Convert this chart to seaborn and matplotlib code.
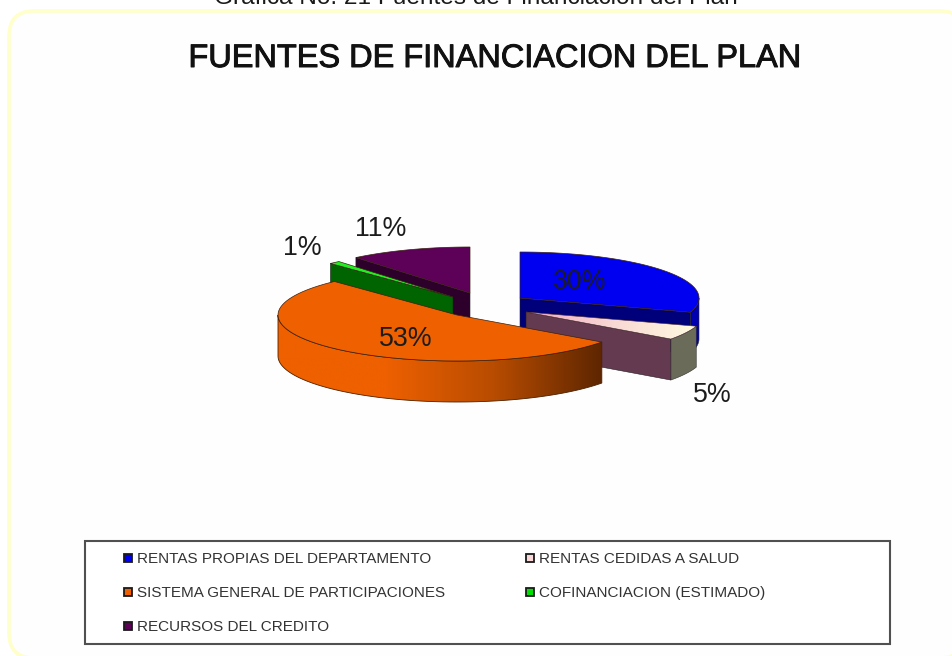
import numpy as np
import seaborn as sns
import matplotlib
matplotlib.use("Agg")
import matplotlib.pyplot as plt
from matplotlib.patches import FancyBboxPatch, Polygon, Rectangle
from matplotlib.colors import LinearSegmentedColormap
from matplotlib import patheffects as pe

# ---- data ----
categories = ["RENTAS PROPIAS DEL DEPARTAMENTO", "RENTAS CEDIDAS A SALUD",
              "SISTEMA GENERAL DE PARTICIPACIONES", "COFINANCIACION (ESTIMADO)",
              "RECURSOS DEL CREDITO"]
values = [30, 5, 53, 1, 11]
caption = "Gráfica No. 21 Fuentes de Financiación del Plan"
title = "FUENTES DE FINANCIACION DEL PLAN"

# ---- style ----
top_colors = ["#0000f0", "#f2c4cc", "#ee6000", "#20f020", "#5c0058"]
legend_colors = ["#0000f0", "#fbd8d8", "#ee6000", "#00e000", "#5c0058"]
radial_colors = ["#00007a", "#643a50", "#ee6000", "#006400", "#2c002a"]
outer_colors = ["#0000b0", "#6b6b5a", "#ee6000", "#006400", "#2c002a"]
apexes = [(520, 298), (526, 312), (457, 315), (453, 297), (470, 293)]
wall_side = [1, 1, None, 0, 0]     # which radial edge of each slice shows a wall
paint_order = [0, 4, 3, 1, 2]
label_xy = [(580, 282), (712, 395), (406, 339), (302, 248), (381, 229)]
RX, RY, DEPTH = 179, 46, 41
FONT = "Liberation Sans"

sns.set_theme(style="white")
plt.rcParams["font.family"] = [FONT, "DejaVu Sans"]

fig = plt.figure(figsize=(9.52, 6.56), dpi=100, facecolor="white")
ax = fig.add_axes([0, 0, 1, 1])
ax.set_xlim(0, 952)
ax.set_ylim(656, 0)
ax.axis("off")

# yellow rounded card
ax.add_patch(FancyBboxPatch((34, 36), 906, 597, boxstyle="round,pad=25,rounding_size=25",
                            fc="#fefefe", ec="#ffffcc", lw=2.6, zorder=0))

fractions = np.array(values, dtype=float) / sum(values)
edges = np.concatenate([[0], np.cumsum(fractions)]) * 2 * np.pi


def arc(apex, a0, a1, dz=0, n=80):
    t = np.linspace(a0, a1, n)
    return np.column_stack([apex[0] + RX * np.sin(t), apex[1] - RY * np.cos(t) + dz])


def gradient_fill(verts, cmap, x0, x1, z):
    poly = Polygon(verts, closed=True, fc="none", ec="none", transform=ax.transData)
    ax.add_patch(poly)
    ys = (verts[:, 1].min(), verts[:, 1].max())
    im = ax.imshow(np.linspace(0, 1, 256)[None, :], cmap=cmap, aspect="auto",
                   extent=(x0, x1, ys[1], ys[0]), zorder=z)
    im.set_clip_path(poly)
    ax.set_xlim(0, 952)
    ax.set_ylim(656, 0)


orange_wall = LinearSegmentedColormap.from_list("o", ["#ee6000", "#ee6000", "#b84c00", "#5e2600"])
pink_top = LinearSegmentedColormap.from_list("p", ["#f0a8c4", "#f8d8d4", "#fffbe0"])

z = 2
for i in paint_order:
    a0, a1 = edges[i], edges[i + 1]
    apex = apexes[i]
    # curved outer wall: only the front half of the ellipse is visible
    v0, v1 = max(a0, np.pi / 2), min(a1, 3 * np.pi / 2)
    if v1 > v0:
        top = arc(apex, v0, v1)
        bot = arc(apex, v0, v1, DEPTH)
        verts = np.vstack([top, bot[::-1]])
        if i == 2:
            gradient_fill(verts, orange_wall, verts[:, 0].min(), verts[:, 0].max(), z)
            ax.add_patch(Polygon(verts, closed=True, fc="none", ec="#4a2000", lw=0.6, zorder=z + 0.1))
        else:
            ax.add_patch(Polygon(verts, closed=True, fc=outer_colors[i], ec="#303030", lw=0.4, zorder=z))
    # straight radial wall
    if wall_side[i] is not None:
        a = a1 if wall_side[i] else a0
        rim = arc(apex, a, a, n=1)[0]
        verts = np.array([apex, rim, rim + [0, DEPTH], np.add(apex, [0, DEPTH])])
        ax.add_patch(Polygon(verts, closed=True, fc=radial_colors[i], ec="#202020", lw=0.4, zorder=z + 0.2))
    # top face
    verts = np.vstack([[apex], arc(apex, a0, a1)])
    if i == 1:
        gradient_fill(verts, pink_top, verts[:, 0].min(), verts[:, 0].max(), z + 0.4)
        ax.add_patch(Polygon(verts, closed=True, fc="none", ec="#503030", lw=0.4, zorder=z + 0.5))
    else:
        ax.add_patch(Polygon(verts, closed=True, fc=top_colors[i], ec="#3a2010", lw=0.5, zorder=z + 0.4))
    z += 1

# value labels
for v, (x, y) in zip(values, label_xy):
    ax.text(x, y, f"{v}%", ha="center", va="center", fontsize=19.3, color="#1c1c1c", zorder=20)

# headings
ax.text(476, 4, caption, ha="center", va="baseline", fontsize=17.6, color="#1a1a1a", zorder=20)
ax.text(494, 67, title, ha="center", va="baseline", fontsize=23.4, color="#111111", zorder=20,
        path_effects=[pe.withStroke(linewidth=0.7, foreground="#111111")])

# legend box
ax.add_patch(Rectangle((85, 541), 805, 103, fc="white", ec="#505050", lw=1.5, zorder=1))
legend_xy = [(128, 558), (530, 558), (128, 592), (530, 592), (128, 626)]
for name, col, (x, y) in zip(categories, legend_colors, legend_xy):
    ax.add_patch(Rectangle((x - 4, y - 4), 8, 8, fc=col, ec="#1a1a1a", lw=1.3, zorder=5))
    ax.text(x + 9, y + 1, name, ha="left", va="center", fontsize=11.0, color="#333333", zorder=20)

fig.savefig("out.png", dpi=100, facecolor="white")
